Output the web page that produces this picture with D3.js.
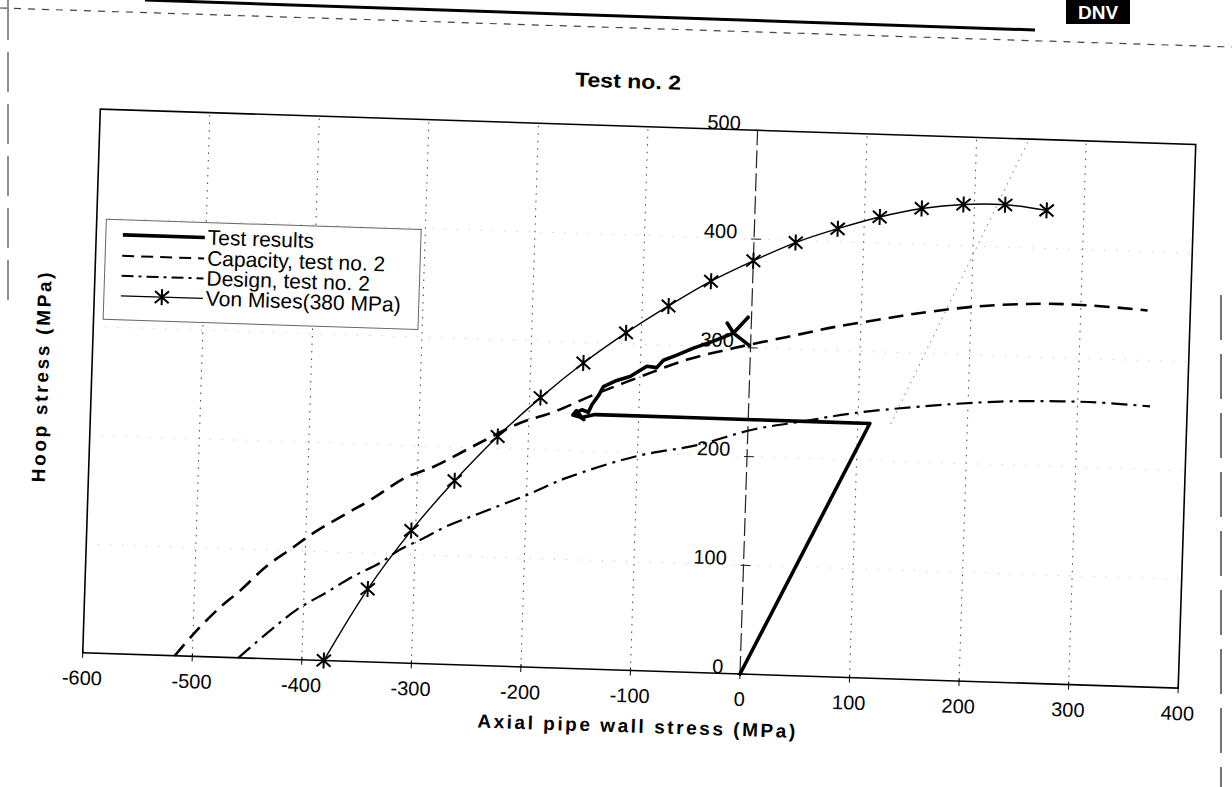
<!DOCTYPE html>
<html lang="en">
<head>
<meta charset="utf-8">
<script src="https://d3js.org/d3.v7.min.js"></script>
<style>
  body { margin: 0; background: #fff; }
  svg { display: block; font-family: "Liberation Sans", Arial, sans-serif; fill: #000; }
</style>
</head>
<body>
<div id="chart"></div>
<script>
var width = 1232, height = 787;

// axis ticks
var xTicks = [-600, -500, -400, -300, -200, -100, 0, 100, 200, 300, 400];
var yTicks = [0, 100, 200, 300, 400, 500];

// Von Mises (380 MPa), star markers
var vmX = [-380, -342, -304, -266, -228, -190, -152, -114, -76, -38, 0, 38, 76, 114, 152, 190, 228, 266];
var vmY = [0, 67, 122, 169, 211, 248, 281, 310, 336, 360, 380, 398, 412, 424, 433, 438, 439, 435];

// Capacity, test no. 2 (dashed)
var capX = [-516, -500, -476, -458, -435, -414, -393, -363, -342, -310, -286, -247, -208, -178, -142, -100, -58, -16, 33, 78, 123, 154, 208, 263, 308, 361];
var capY = [0, 20, 46, 62, 85, 101, 117, 136, 149, 171, 181, 203, 224, 235, 252, 270, 287, 299, 311, 322, 331, 337, 345, 349, 349, 346];

// Design, test no. 2 (dash-dot)
var desX = [-458, -433, -406, -379, -356, -332, -314, -293, -272, -242, -200, -164, -101, -46, 5, 50, 96, 156, 229, 284, 320, 366];
var desY = [0, 23, 46, 63, 78, 91, 104, 115, 127, 140, 158, 175, 197, 209, 225, 234, 243, 251, 258, 260, 260, 258];

// Test results (thick solid)
var testX = [0, 111, 66, 5, -56, -117, -140, -152, -160, -157, -150, -158, -152, -146, -143, -137, -133, -121, -109, -94, -85, -79, -67, -52, -34, -16, -3, -16, -22, -16, -1];
var testY = [0, 234, 234, 234, 234, 234, 234, 231, 233, 237, 229, 235, 238, 236, 243, 252, 260, 266, 270, 280, 279, 286, 291, 298, 305, 313, 328, 313, 322, 313, 302];

// faint dotted line, upper right
var elX = [130, 248];
var elY = [234, 500];

var legendNames = ["Test results", "Capacity, test no. 2", "Design, test no. 2", "Von Mises(380 MPa)"];

////////////////////////////////////////////////////////////

var svg = d3.select("#chart").append("svg")
  .attr("width", width)
  .attr("height", height);

var x = d3.scaleLinear().domain([-600, 400]).range([82.4, 1178.4]);
var y = d3.scaleLinear().domain([0, 500]).range([674, 130]);

//page header bits from the scan
svg.append("line").attr("x1", 145).attr("y1", 0).attr("x2", 1035).attr("y2", 30)
  .style("stroke", "#000").style("stroke-width", 3);
svg.append("line").attr("x1", 0).attr("y1", 8).attr("x2", 1232).attr("y2", 47)
  .style("stroke", "#444").style("stroke-width", 1.2).style("stroke-dasharray", "7,7");
svg.append("line").attr("x1", 8).attr("y1", 0).attr("x2", 8).attr("y2", 300)
  .style("stroke", "#444").style("stroke-width", 1.2).style("stroke-dasharray", "40,12");
svg.append("line").attr("x1", 1221).attr("y1", 295).attr("x2", 1221).attr("y2", 787)
  .style("stroke", "#444").style("stroke-width", 1.5).style("stroke-dasharray", "45,14");
svg.append("rect").attr("x", 1066).attr("y", 0).attr("width", 64).attr("height", 24).style("fill", "#000");
svg.append("text").attr("x", 1098).attr("y", 19).attr("text-anchor", "middle")
  .style("fill", "#fff").style("font-weight", "bold").style("font-size", "19px").text("DNV");

var g = svg.append("g")
  .attr("transform", "rotate(1.85," + x(0) + "," + y(0) + ")");

//title
g.append("text").attr("x", 609).attr("y", 92).attr("text-anchor", "middle")
  .attr("textLength", 106).attr("lengthAdjust", "spacingAndGlyphs")
  .style("font-weight", "bold").style("font-size", "20px").text("Test no. 2");

//gridlines
g.selectAll("line.vgrid")
  .data(xTicks.filter(function(d) { return d != -600 && d != 0 && d != 400; }))
  .enter().append("line")
  .attr("class", "vgrid")
  .attr("x1", function(d) { return x(d); }).attr("x2", function(d) { return x(d); })
  .attr("y1", y(0)).attr("y2", y(500))
  .style("stroke", "#444").style("stroke-width", 1).style("stroke-dasharray", "1.5,6");

g.selectAll("line.hgrid")
  .data(yTicks.filter(function(d) { return d != 0 && d != 500; }))
  .enter().append("line")
  .attr("class", "hgrid")
  .attr("x1", x(-600)).attr("x2", x(400))
  .attr("y1", function(d) { return y(d); }).attr("y2", function(d) { return y(d); })
  .style("stroke", "#bbb").style("stroke-width", 1).style("stroke-dasharray", "1,11");

//faint dotted line
g.append("path")
  .datum(d3.zip(elX, elY))
  .attr("d", d3.line().x(function(d) { return x(d[0]); }).y(function(d) { return y(d[1]); }))
  .style("fill", "none").style("stroke", "#888").style("stroke-width", 1).style("stroke-dasharray", "1.5,5");

//y axis at x = 0
g.append("line")
  .attr("x1", x(0)).attr("x2", x(0)).attr("y1", y(0)).attr("y2", y(500))
  .style("stroke", "#222").style("stroke-width", 1.2).style("stroke-dasharray", "18,5");

g.selectAll("line.ytick")
  .data(yTicks).enter().append("line")
  .attr("class", "ytick")
  .attr("x1", x(0) - 3).attr("x2", x(0) + 7)
  .attr("y1", function(d) { return y(d); }).attr("y2", function(d) { return y(d); })
  .style("stroke", "#222").style("stroke-width", 1);

g.selectAll("text.ylab")
  .data(yTicks).enter().append("text")
  .attr("class", "ylab")
  .attr("x", x(0) - 17)
  .attr("y", function(d) { return y(d); })
  .attr("text-anchor", "end")
  .style("font-size", "20px")
  .text(function(d) { return d; });

//frame
g.append("rect")
  .attr("x", x(-600)).attr("y", y(500))
  .attr("width", x(400) - x(-600)).attr("height", y(0) - y(500))
  .style("fill", "none").style("stroke", "#000").style("stroke-width", 1.6);

//x ticks and labels
g.selectAll("line.xtick")
  .data(xTicks).enter().append("line")
  .attr("class", "xtick")
  .attr("x1", function(d) { return x(d); }).attr("x2", function(d) { return x(d); })
  .attr("y1", y(0) - 3).attr("y2", y(0) + 5)
  .style("stroke", "#000").style("stroke-width", 1);

g.selectAll("text.xlab")
  .data(xTicks).enter().append("text")
  .attr("class", "xlab")
  .attr("x", function(d) { return x(d); })
  .attr("y", y(0) + 32)
  .attr("text-anchor", "middle")
  .style("font-size", "20px")
  .text(function(d) { return d; });

//axis titles
g.append("text").attr("x", 638).attr("y", 736).attr("text-anchor", "middle")
  .attr("textLength", 318).attr("lengthAdjust", "spacing")
  .style("font-weight", "bold").style("font-size", "19px")
  .text("Axial pipe wall stress (MPa)");

g.append("text")
  .attr("transform", "translate(39,400) rotate(-90)")
  .attr("text-anchor", "middle")
  .attr("textLength", 210).attr("lengthAdjust", "spacing")
  .style("font-weight", "bold").style("font-size", "19px")
  .text("Hoop stress (MPa)");

////////////////////////////////////////////////////////////
//////////////////////// Series ////////////////////////////

var line = d3.line()
  .x(function(d) { return x(d[0]); })
  .y(function(d) { return y(d[1]); });

var smooth = d3.line()
  .curve(d3.curveCatmullRom.alpha(0.5))
  .x(function(d) { return x(d[0]); })
  .y(function(d) { return y(d[1]); });

g.append("path").datum(d3.zip(capX, capY))
  .attr("d", smooth)
  .style("fill", "none").style("stroke", "#000").style("stroke-width", 2.6)
  .style("stroke-dasharray", "15,8");

g.append("path").datum(d3.zip(desX, desY))
  .attr("d", smooth)
  .style("fill", "none").style("stroke", "#000").style("stroke-width", 2.2)
  .style("stroke-dasharray", "16,6,3,6");

g.append("path").datum(d3.zip(vmX, vmY))
  .attr("d", smooth)
  .style("fill", "none").style("stroke", "#000").style("stroke-width", 1.4);

var star = "M0,-8V8M-7,-6L7,6M-7,6L7,-6";

g.selectAll("path.star")
  .data(d3.zip(vmX, vmY)).enter().append("path")
  .attr("class", "star")
  .attr("transform", function(d) { return "translate(" + x(d[0]) + "," + y(d[1]) + ")"; })
  .attr("d", star)
  .style("fill", "none").style("stroke", "#000").style("stroke-width", 2);

g.append("path").datum(d3.zip(testX, testY))
  .attr("d", line)
  .style("fill", "none").style("stroke", "#000").style("stroke-width", 3.6)
  .style("stroke-linejoin", "round").style("stroke-linecap", "round");

////////////////////////////////////////////////////////////
//////////////////////// Legend ////////////////////////////

var legend = g.append("g").attr("class", "legend");

legend.append("rect")
  .attr("x", 92).attr("y", 240).attr("width", 315).attr("height", 100)
  .style("fill", "#fff").style("stroke", "#666").style("stroke-width", 1);

var rowY = [255, 276, 296, 316];
var dashes = [null, "12,7", "12,5,3,5", null];
var widths = [3.6, 2, 2, 1.3];

legendNames.forEach(function(name, i) {
  legend.append("line")
    .attr("x1", 109).attr("x2", 191)
    .attr("y1", rowY[i]).attr("y2", rowY[i])
    .style("stroke", "#000").style("stroke-width", widths[i])
    .style("stroke-dasharray", dashes[i]);
  legend.append("text")
    .attr("x", 194).attr("y", rowY[i] + 7)
    .style("font-size", "21px")
    .text(name);
});

legend.append("path")
  .attr("transform", "translate(150," + rowY[3] + ")")
  .attr("d", star)
  .style("fill", "none").style("stroke", "#000").style("stroke-width", 2);
</script>
</body>
</html>
